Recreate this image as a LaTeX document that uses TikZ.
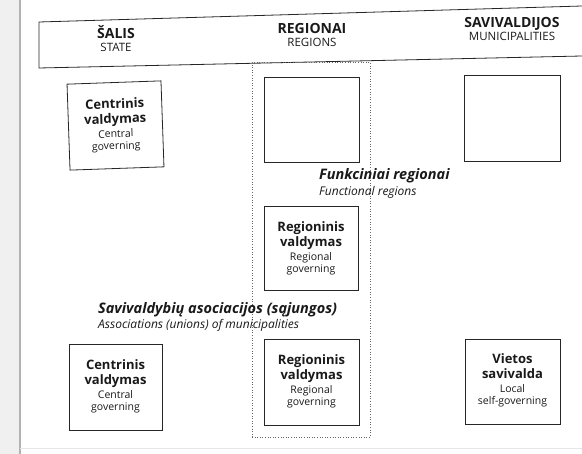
\documentclass[tikz,border=0pt]{standalone}
\usepackage{fontspec}
\setmainfont{Open Sans}
\begin{document}
\begin{tikzpicture}[x=1pt,y=-1pt,
  box/.style={draw=black!85, line width=0.8pt, minimum width=94pt, minimum height=86pt, inner sep=0pt},
  bl/.style={anchor=base, font=\fontsize{13}{15}\selectfont\bfseries, inner sep=0pt, text=black!90},
  sl/.style={anchor=base, font=\fontsize{10.5}{12}\selectfont, inner sep=0pt, text=black!90},
  hb/.style={anchor=base, font=\fontsize{14}{16}\selectfont\bfseries, inner sep=0pt, text=black!90},
  hs/.style={anchor=base, font=\fontsize{11.5}{13}\selectfont, inner sep=0pt, text=black!90},
  ib/.style={anchor=base west, font=\fontsize{14.5}{16}\selectfont\bfseries\itshape, inner sep=0pt, text=black!90},
  is/.style={anchor=base west, font=\fontsize{12}{14}\selectfont\itshape, inner sep=0pt, text=black!90}]
\useasboundingbox (0,0) rectangle (582,454);
% page edge
\fill[gray!12] (0,0) rectangle (20,454);
\draw[gray!60, line width=1.2pt] (20,0) -- (20,454);
\draw[gray!20, line width=1pt] (20,449) -- (582,449);
% header banner
\draw[black!85, line width=0.8pt] (582,6) -- (39,22) -- (39,68) -- (582,56);
\node[hb] (h1) at (116,39) {ŠALIS};
\node[hs] (h1s) at (116,52) {STATE};
\node[hb] (h2) at (312,34) {REGIONAI};
\node[hs] (h2s) at (312,47) {REGIONS};
\node[hb] (h3) at (512,28) {SAVIVALDIJOS};
\node[hs] (h3s) at (512,41) {MUNICIPALITIES};
% functional regions dotted frame
\node[draw=black!60, dotted, line width=0.6pt, minimum width=118pt, minimum height=375pt, inner sep=0pt] (fr) at (311,249.5) {};
% boxes
\node[box, rotate=2] (c1) at (115.5,125.5) {};
\node[box, minimum width=95pt, minimum height=85pt] (e1) at (311.5,119.5) {};
\node[box, minimum width=96pt, minimum height=86pt] (e2) at (512,118) {};
\node[box, minimum height=84pt] (r1) at (311,248) {};
\node[box, minimum width=93pt] (c2) at (115.5,387) {};
\node[box, minimum width=95pt] (r2) at (311.5,382) {};
\node[box, minimum width=95pt, minimum height=85pt] (v) at (512.5,381.5) {};
% box texts
\node[bl, rotate=2] (c1a) at (114.9,108.5) {Centrinis};
\node[bl, rotate=2] (c1b) at (115.4,123.5) {valdymas};
\node[sl, rotate=2] (c1c) at (115.9,137.5) {Central};
\node[sl, rotate=2] (c1d) at (116.3,149.5) {governing};
\node[bl] (r1a) at (311,232) {Regioninis};
\node[bl] (r1b) at (311,247) {valdymas};
\node[sl] (r1c) at (311,261) {Regional};
\node[sl] (r1d) at (311,273) {governing};
\node[bl] (c2a) at (115.5,370) {Centrinis};
\node[bl] (c2b) at (115.5,385) {valdymas};
\node[sl] (c2c) at (115.5,399) {Central};
\node[sl] (c2d) at (115.5,411) {governing};
\node[bl] (r2a) at (311.5,365) {Regioninis};
\node[bl] (r2b) at (311.5,380) {valdymas};
\node[sl] (r2c) at (311.5,394) {Regional};
\node[sl] (r2d) at (311.5,406) {governing};
\node[bl] (va) at (512.5,364) {Vietos};
\node[bl] (vb) at (512.5,379) {savivalda};
\node[sl] (vc) at (512.5,393) {Local};
\node[sl] (vd) at (512.5,405) {self-governing};
% italic labels
\node[ib] (f1) at (319,180) {Funkciniai regionai};
\node[is] (f2) at (319,196) {Functional regions};
\node[ib] (s1) at (98,314) {Savivaldybių asociacijos (sąjungos)};
\node[is] (s2) at (98,329) {Associations (unions) of municipalities};
\end{tikzpicture}
\end{document}
